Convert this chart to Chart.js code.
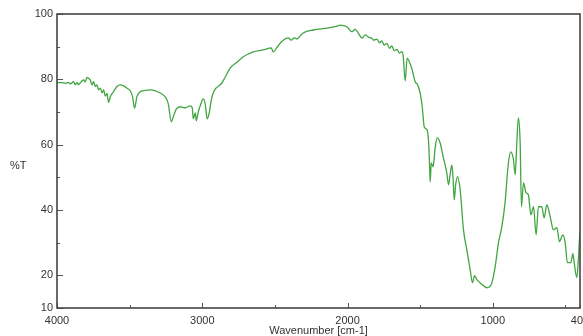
<!DOCTYPE html>
<html>
<head>
<meta charset="utf-8">
<title>IR spectrum</title>
<script src="https://cdn.jsdelivr.net/npm/chart.js@4.4.1/dist/chart.umd.min.js"></script>
<style>
  html, body { margin: 0; padding: 0; background: #fff; }
  canvas { display: block; }
</style>
</head>
<body>
<canvas id="irChart" width="583" height="336"></canvas>
<script>
// spectrum points: wavenumber (cm-1) and transmittance (%T)
const wavenumbers = [
  4000, 3964, 3943, 3920, 3908, 3886, 3874, 3862, 3851, 3833,
  3817, 3805, 3794, 3783, 3771, 3759, 3748, 3736, 3725, 3714,
  3702, 3690, 3679, 3668, 3656, 3645, 3633, 3611, 3587, 3564,
  3542, 3518, 3496, 3480, 3466, 3450, 3427, 3404, 3358, 3289,
  3255, 3234, 3213, 3200, 3179, 3152, 3117, 3083, 3069, 3062,
  3048, 3041, 3028, 3014, 2993, 2980, 2966, 2952, 2938, 2918,
  2866, 2842, 2807, 2759, 2718, 2649, 2580, 2525, 2512, 2484,
  2450, 2408, 2388, 2367, 2346, 2326, 2305, 2236, 2140, 2071,
  2051, 2005, 1970, 1947, 1925, 1901, 1879, 1856, 1833, 1822,
  1798, 1780, 1764, 1748, 1729, 1711, 1695, 1679, 1660, 1643,
  1626, 1617, 1603, 1590, 1569, 1555, 1534, 1521, 1500, 1486,
  1472, 1452, 1442, 1435, 1431, 1424, 1411, 1397, 1383, 1363,
  1342, 1317, 1305, 1294, 1282, 1273, 1266, 1256, 1243, 1225,
  1202, 1179, 1156, 1140, 1126, 1110, 1080, 1041, 1025, 1007,
  984, 961, 938, 916, 893, 876, 858, 846, 835, 824,
  812, 803, 789, 771, 755, 738, 720, 702, 686, 663,
  647, 628, 605, 583, 559, 542, 518, 502, 487, 463,
  449, 440, 422, 410, 403, 400
];
const transmittance = [
  79.0, 79.0, 78.8, 79.0, 78.6, 79.3, 78.3, 79.0, 78.4, 79.3,
  79.8, 79.2, 80.6, 80.3, 79.8, 78.3, 79.3, 77.8, 78.3, 76.8,
  77.3, 75.9, 76.8, 74.9, 75.7, 72.9, 74.7, 76.2, 77.8, 78.3,
  78.0, 77.3, 76.5, 74.7, 71.2, 74.7, 76.2, 76.5, 76.8, 75.8,
  74.6, 72.5, 67.0, 68.5, 70.9, 71.6, 71.3, 71.9, 71.3, 67.9,
  69.7, 67.3, 70.0, 71.9, 74.0, 72.5, 67.9, 69.7, 73.7, 76.5,
  78.8, 80.7, 83.5, 85.3, 86.9, 88.4, 89.0, 89.6, 88.4, 89.9,
  91.7, 92.7, 92.0, 92.7, 92.4, 93.3, 94.2, 95.1, 95.7, 96.3,
  96.6, 96.1, 94.6, 95.3, 94.1, 92.6, 93.6, 92.9, 92.6, 92.0,
  92.3, 91.2, 91.8, 90.5, 91.0, 89.5, 90.2, 88.8, 89.2, 88.0,
  88.5, 87.2, 79.5, 86.5, 84.7, 82.9, 79.2, 78.6, 75.8, 71.6,
  65.4, 64.5, 60.6, 53.2, 48.6, 54.4, 53.2, 59.0, 62.1, 60.6,
  56.3, 51.4, 47.7, 50.8, 53.8, 49.2, 43.1, 47.7, 50.2, 46.2,
  33.9, 27.8, 21.7, 17.7, 19.9, 18.7, 17.4, 16.2, 16.4, 17.7,
  22.6, 30.0, 34.9, 42.2, 54.4, 57.8, 55.4, 50.8, 60.6, 68.2,
  60.6, 41.0, 48.3, 45.3, 44.6, 38.5, 41.0, 32.4, 41.0, 41.0,
  37.6, 41.6, 37.9, 33.9, 34.6, 30.3, 32.4, 30.0, 23.9, 23.9,
  26.6, 23.9, 19.3, 25.7, 31.5, 33.0
];

// axis ticks
const xTicks = [4000, 3500, 3000, 2500, 2000, 1500, 1000, 500, 400];
const xLabeled = [4000, 3000, 2000, 1000, 400];
const yTicks = [10, 20, 30, 40, 50, 60, 70, 80, 90, 100];
const yLabeled = [10, 20, 40, 60, 80, 100];

const ink = '#333333';
Chart.defaults.font.family = '"Liberation Sans", Arial, sans-serif';
Chart.defaults.font.size = 11;
Chart.defaults.color = ink;

// frame round the plot, short inward tick marks and the %T label
const frameTicks = {
  id: 'frameTicks',
  afterDatasetsDraw(chart) {
    const { ctx, chartArea: a, scales } = chart;
    ctx.save();
    ctx.strokeStyle = '#555';
    ctx.lineWidth = 1;
    yTicks.forEach(v => {
      const y = Math.round(scales.y.getPixelForValue(v)) + 0.5;
      const len = yLabeled.includes(v) ? 6 : 3;
      ctx.beginPath();
      ctx.moveTo(a.left, y);
      ctx.lineTo(a.left + len, y);
      ctx.stroke();
    });
    xTicks.forEach(v => {
      const x = Math.round(scales.x.getPixelForValue(v)) + 0.5;
      const len = v % 1000 === 0 ? 5 : 3;
      ctx.beginPath();
      ctx.moveTo(x, a.bottom);
      ctx.lineTo(x, a.bottom - len);
      ctx.stroke();
    });
    ctx.strokeStyle = '#444';
    ctx.lineWidth = 1.6;
    ctx.strokeRect(a.left, a.top, a.right - a.left, a.bottom - a.top);
    ctx.fillStyle = ink;
    ctx.font = '11px "Liberation Sans", Arial, sans-serif';
    ctx.textAlign = 'left';
    ctx.textBaseline = 'middle';
    ctx.fillText('%T', 10, 166);
    ctx.restore();
  }
};

new Chart(document.getElementById('irChart'), {
  type: 'line',
  data: {
    datasets: [{
      data: wavenumbers.map((w, i) => ({ x: w, y: transmittance[i] })),
      borderColor: '#41a541',
      borderWidth: 1.3,
      pointRadius: 0,
      fill: false,
      cubicInterpolationMode: 'monotone'
    }]
  },
  options: {
    responsive: false,
    animation: false,
    layout: { padding: { top: 14, right: 3, left: 0, bottom: 0 } },
    plugins: { legend: { display: false }, tooltip: { enabled: false } },
    scales: {
      x: {
        type: 'linear',
        reverse: true,
        min: 400,
        max: 4000,
        afterBuildTicks: s => { s.ticks = xTicks.map(v => ({ value: v })); },
        afterFit: s => { s.height = 28; s.paddingLeft = 0; s.paddingRight = 0; },
        grid: { display: false, drawTicks: false },
        border: { display: false },
        ticks: {
          autoSkip: false,
          maxRotation: 0,
          padding: 6,
          callback: v => xLabeled.includes(v) ? String(v) : ''
        },
        title: {
          display: true,
          text: 'Wavenumber [cm-1]',
          padding: { top: 0, bottom: -2 },
          font: { size: 11 }
        }
      },
      y: {
        min: 10,
        max: 100,
        afterBuildTicks: s => { s.ticks = yTicks.map(v => ({ value: v })); },
        afterFit: s => { s.width = 57; s.paddingTop = 0; s.paddingBottom = 0; },
        grid: { display: false, drawTicks: false },
        border: { display: false },
        ticks: {
          autoSkip: false,
          padding: 4,
          callback: v => yLabeled.includes(v) ? String(v) : ''
        }
      }
    }
  },
  plugins: [frameTicks]
});
</script>
</body>
</html>
